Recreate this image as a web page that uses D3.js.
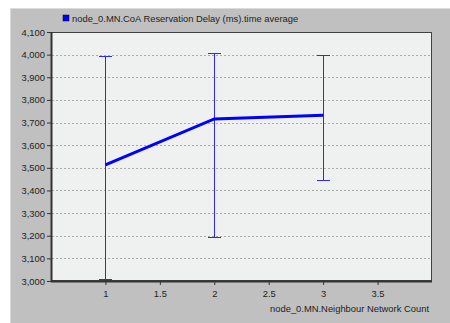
<!DOCTYPE html>
<html><head><meta charset="utf-8">
<script src="https://cdn.jsdelivr.net/npm/d3@7"></script>
<style>body{margin:0;background:#fff}svg{display:block;font-family:"Liberation Sans",Arial,sans-serif}</style>
</head><body>
<script>
const xValues = [1, 2, 3];
const meanValues = [3513, 3716, 3732];
const upperValues = [3995, 4006, 3998];
const lowerValues = [3009, 3194, 3446];
const yTicks = [3000,3100,3200,3300,3400,3500,3600,3700,3800,3900,4000,4100];
const xTicks = [1, 1.5, 2, 2.5, 3, 3.5];
const seriesName = "node_0.MN.CoA Reservation Delay (ms).time average";
const xTitle = "node_0.MN.Neighbour Network Count";

const W = 450, H = 323;
const FS = "9.4px";
const svg = d3.select("body").append("svg").attr("width", W).attr("height", H);
svg.append("rect").attr("x",0).attr("y",0).attr("width",W).attr("height",H).attr("fill","#fff");
svg.append("rect").attr("x",10).attr("y",8).attr("width",W-10).attr("height",H-8).attr("fill","#c0c0c0");
svg.append("line").attr("x1",10.5).attr("x2",10.5).attr("y1",8).attr("y2",H).attr("stroke","#dcdcdc");
svg.append("line").attr("x1",10).attr("x2",W).attr("y1",8.5).attr("y2",8.5).attr("stroke","#dcdcdc");

const L = 51, R = 432, T = 32, B = 281;
const x = d3.scaleLinear().domain([0.5, 4]).range([L, R]);
const y = d3.scaleLinear().domain([3000, 4100]).range([B, T]);

svg.append("rect").attr("x",L).attr("y",T).attr("width",R-L).attr("height",B-T).attr("fill","#eff0f0");

// grid
svg.append("g").selectAll("line").data(yTicks.filter(d=>d>3000 && d<4100)).join("line")
  .attr("x1",L+1).attr("x2",R).attr("y1",d=>Math.round(y(d))+0.5).attr("y2",d=>Math.round(y(d))+0.5)
  .attr("stroke","#a8a8a8").attr("stroke-dasharray","2,2");

// frame
svg.append("rect").attr("x",L+0.5).attr("y",T+0.5).attr("width",R-L-1).attr("height",B-T-1)
  .attr("fill","none").attr("stroke","#404040");
svg.append("line").attr("x1",L+0.5).attr("x2",L+0.5).attr("y1",T).attr("y2",B+1).attr("stroke","#333").attr("stroke-width",2);
svg.append("line").attr("x1",L).attr("x2",R).attr("y1",B+0.5).attr("y2",B+0.5).attr("stroke","#333").attr("stroke-width",2);

// axes
const yAxis = d3.axisLeft(y).tickValues(yTicks).tickFormat(d3.format(",")).tickSize(4).tickPadding(2);
const gy = svg.append("g").attr("transform",`translate(${L},0)`).call(yAxis);
const xAxis = d3.axisBottom(x).tickValues(xTicks).tickFormat(d=>String(d)).tickSize(3).tickPadding(5);
const gx = svg.append("g").attr("transform",`translate(0,${B+1})`).call(xAxis);
[gy,gx].forEach(g=>{
  g.select(".domain").remove();
  g.selectAll(".tick line").attr("stroke","#333");
  g.selectAll("text").attr("fill","#222").style("font-size",FS).style("font-family","'Liberation Sans',Arial,sans-serif");
});

// error bars (as 1px rects for crisp blue)
const data = xValues.map((v,i)=>({x:v, m:meanValues[i], hi:upperValues[i], lo:lowerValues[i]}));
const eb = svg.append("g").attr("fill","#2a2aff").attr("shape-rendering","crispEdges");
data.forEach(d=>{
  const cx = Math.round(x(d.x));
  const yh = Math.round(y(d.hi)), yl = Math.round(y(d.lo));
  eb.append("rect").attr("x",cx).attr("y",yh).attr("width",1).attr("height",yl-yh+1);
  eb.append("rect").attr("x",cx-6).attr("y",yh).attr("width",13).attr("height",1);
  eb.append("rect").attr("x",cx-6).attr("y",yl).attr("width",13).attr("height",1);
});

// line
svg.append("path").datum(data)
  .attr("d", d3.line().x(d=>x(d.x)).y(d=>y(d.m)))
  .attr("fill","none").attr("stroke","#0000ff").attr("stroke-width",3);

// legend
svg.append("rect").attr("x",63).attr("y",15).attr("width",6).attr("height",6).attr("fill","#0000ff").attr("stroke","#000").attr("stroke-width",0.5);
svg.append("text").attr("x",72).attr("y",22).text(seriesName).attr("fill","#222").style("font-size",FS);

// x title
svg.append("text").attr("x",429).attr("y",312).attr("text-anchor","end").text(xTitle).attr("fill","#222").style("font-size",FS);
</script>
</body></html>
